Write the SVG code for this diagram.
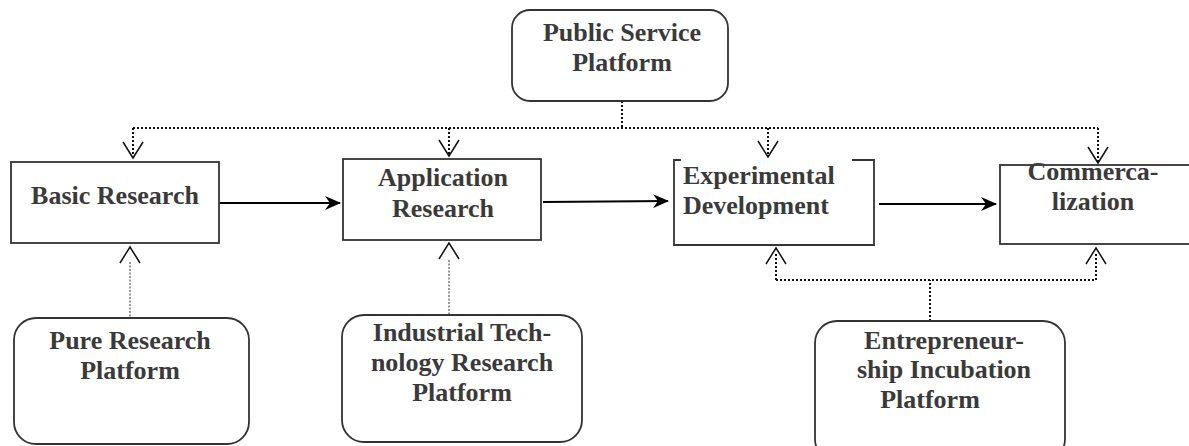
<svg xmlns="http://www.w3.org/2000/svg" width="1189" height="446" viewBox="0 0 1189 446">
<defs>
<marker id="solid" viewBox="0 0 16 14" refX="15" refY="7" markerWidth="16" markerHeight="14" markerUnits="userSpaceOnUse" orient="auto">
<path d="M0,0 L16,7 L0,14 L5,7 Z" fill="#000"/>
</marker>
</defs>
<style>
.box{fill:#fff;stroke:#333;stroke-width:1.8}
.t{font-family:"Liberation Serif","Times New Roman",serif;font-weight:bold;font-size:26px;fill:#3a3a3a;text-anchor:middle}
.dot{fill:none;stroke:#111;stroke-width:2;stroke-dasharray:2 2}
.fine{fill:none;stroke:#333;stroke-width:1;stroke-dasharray:2 1.5}
.head{fill:none;stroke:#111;stroke-width:1.5}
.arr{fill:none;stroke:#000;stroke-width:2}
</style>
<g id="connectors">
<path class="dot" d="M622,101 V128 M133,128 H1098 M133,128 V155 M449,128 V155 M768,128 V156 M1098,128 V162"/>
<path class="head" d="M123,142 L133,158 L143,142 M439,140 L449,156 L459,140 M758,141 L768,157 L778,141 M1088,147 L1098,163 L1108,147"/>
<path class="fine" d="M130,262 V317 M449,260 V314"/>
<path class="head" d="M120,263 L130,247 L140,263 M439,259 L449,243 L459,259"/>
<path class="dot" d="M930,321 V280 M776,280 H1096 M776,280 V252 M1096,280 V252"/>
<path class="head" d="M766,264 L776,248 L786,264 M1086,264 L1096,248 L1106,264"/>
<line class="arr" x1="220" y1="203" x2="340" y2="203" marker-end="url(#solid)"/>
<line class="arr" x1="543" y1="202" x2="668" y2="201" marker-end="url(#solid)"/>
<line class="arr" x1="879" y1="204" x2="996" y2="204" marker-end="url(#solid)"/>
</g>
<g id="public-service">
<rect class="box" x="512" y="10" width="216" height="91" rx="18"/>
<text class="t" x="622" y="41">Public Service</text>
<text class="t" x="622" y="71">Platform</text>
</g>
<g id="basic-research">
<rect class="box" x="11" y="162" width="208" height="81"/>
<text class="t" x="115" y="204">Basic Research</text>
</g>
<g id="application-research">
<rect class="box" x="343" y="159" width="198" height="81"/>
<text class="t" x="443" y="186">Application</text>
<text class="t" x="443" y="217">Research</text>
</g>
<g id="experimental-development">
<path class="box" d="M681,160 H674 V245 H874 V160 H852"/>
<text class="t" x="683" y="184" style="text-anchor:start">Experimental</text>
<text class="t" x="683" y="214" style="text-anchor:start">Development</text>
</g>
<g id="commercialization">
<rect class="box" x="1000" y="165" width="200" height="79"/>
<text class="t" x="1093" y="180">Commerca-</text>
<text class="t" x="1093" y="210">lization</text>
</g>
<g id="pure-research-platform">
<rect class="box" x="14" y="318" width="235" height="126" rx="22"/>
<text class="t" x="130" y="349">Pure Research</text>
<text class="t" x="130" y="379">Platform</text>
</g>
<g id="industrial-technology-platform">
<rect class="box" x="342" y="315" width="240" height="127" rx="22"/>
<text class="t" x="462" y="341">Industrial Tech-</text>
<text class="t" x="462" y="371">nology Research</text>
<text class="t" x="462" y="401">Platform</text>
</g>
<g id="entrepreneurship-platform">
<rect class="box" x="815" y="321" width="250" height="140" rx="22"/>
<text class="t" x="944" y="349">Entrepreneur-</text>
<text class="t" x="944" y="378">ship Incubation</text>
<text class="t" x="930" y="408">Platform</text>
</g>
</svg>
